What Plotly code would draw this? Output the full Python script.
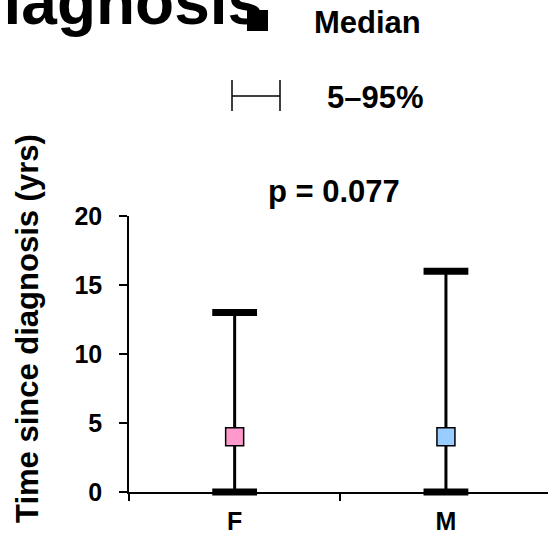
import plotly.graph_objects as go

# ---- data ----
categories = ["F", "M"]
median_vals = [4, 4]
p5_vals = [0, 0]
p95_vals = [13, 16]
marker_colors = ["#FF99CC", "#99CCFF"]
y_ticks = [0, 5, 10, 15, 20]
p_text = "p = 0.077"
title_text = "Time since diagnosis"
y_title = "Time since diagnosis (yrs)"
legend_labels = ["Median", "5–95%"]

FONT = "Liberation Sans, Arial, sans-serif"
W, H = 548, 535
L, R, T, B = 129, 0, 216, 43
PW, PH = W - L - R, H - T - B

def px(x):
    return (x - L) / PW

def py(y):
    return (H - B - y) / PH

xs = list(range(len(categories)))

fig = go.Figure()

# median squares with 5-95% stems
fig.add_trace(go.Scatter(
    x=xs, y=median_vals, mode="markers",
    marker=dict(symbol="square", size=18, color=marker_colors,
                line=dict(color="black", width=1.5)),
    error_y=dict(type="data", symmetric=False,
                 array=[h - m for h, m in zip(p95_vals, median_vals)],
                 arrayminus=[m - l for m, l in zip(median_vals, p5_vals)],
                 width=0, thickness=3, color="black"),
    cliponaxis=False, showlegend=False, hoverinfo="skip",
))
# caps
fig.add_trace(go.Scatter(
    x=xs + xs, y=p5_vals + p95_vals, mode="markers",
    marker=dict(symbol="line-ew", size=32, line=dict(color="black", width=7)),
    cliponaxis=False, showlegend=False, hoverinfo="skip",
))

fig.update_layout(
    width=W, height=H,
    margin=dict(l=L, r=R, t=T, b=B, pad=0),
    paper_bgcolor="white", plot_bgcolor="white",
    font=dict(family=FONT, color="black"),
    xaxis=dict(range=[-0.5, 1.483], tickvals=[-0.5, 0.5, 1.5], ticks="outside",
               ticklen=7, tickwidth=1.5, tickcolor="black", showticklabels=False,
               showline=True, linecolor="black", linewidth=1.5,
               showgrid=False, zeroline=False),
    xaxis2=dict(range=[-0.5, 1.483], overlaying="x", anchor="y", side="bottom",
                tickvals=xs, ticktext=categories, ticks="", showline=False,
                showgrid=False, zeroline=False, ticklabelstandoff=12,
                tickfont=dict(family=FONT, size=25, weight="bold", color="black")),
    yaxis=dict(range=[0, 20], tickvals=y_ticks, ticks="outside", ticklen=8,
               tickwidth=1.5, tickcolor="black", showline=True, linecolor="black",
               linewidth=1.5, showgrid=False, zeroline=False, ticklabelstandoff=12,
               tickfont=dict(family=FONT, size=25, weight="bold", color="black")),
)
fig.add_trace(go.Scatter(x=[None], y=[None], xaxis="x2", yaxis="y",
                         showlegend=False, hoverinfo="skip"))

ann = []
ann.append(dict(text=title_text, x=px(265), y=py(40), xref="paper", yref="paper",
                xanchor="right", yanchor="bottom", showarrow=False,
                font=dict(family=FONT, size=64, weight="bold", color="black")))
ann.append(dict(text=y_title, x=px(27), y=py(329), xref="paper", yref="paper",
                xanchor="center", yanchor="middle", textangle=-90, showarrow=False,
                font=dict(family=FONT, size=31, weight="bold", color="black")))
ann.append(dict(text=p_text, x=px(334), y=py(191), xref="paper", yref="paper",
                xanchor="center", yanchor="middle", showarrow=False,
                font=dict(family=FONT, size=31, weight="bold", color="black")))
ann.append(dict(text=legend_labels[0], x=px(312), y=py(22), xref="paper", yref="paper",
                xanchor="left", yanchor="middle", showarrow=False,
                font=dict(family=FONT, size=31, weight="bold", color="black")))
ann.append(dict(text=legend_labels[1], x=px(325), y=py(97), xref="paper", yref="paper",
                xanchor="left", yanchor="middle", showarrow=False,
                font=dict(family=FONT, size=31, weight="bold", color="black")))
fig.update_layout(annotations=ann)

shapes = [
    dict(type="rect", xref="paper", yref="paper", x0=px(247), x1=px(268),
         y0=py(31), y1=py(10), fillcolor="black", line=dict(width=0)),
    dict(type="line", xref="paper", yref="paper", x0=px(232), x1=px(280),
         y0=py(96), y1=py(96), line=dict(color="black", width=1.5)),
    dict(type="line", xref="paper", yref="paper", x0=px(232), x1=px(232),
         y0=py(80), y1=py(111), line=dict(color="black", width=1.5)),
    dict(type="line", xref="paper", yref="paper", x0=px(280), x1=px(280),
         y0=py(80), y1=py(111), line=dict(color="black", width=1.5)),
]
fig.update_layout(shapes=shapes)

fig.write_html("out.html", config={"displayModeBar": False},
               post_script="document.body.style.margin='0';document.body.style.overflow='hidden';")
